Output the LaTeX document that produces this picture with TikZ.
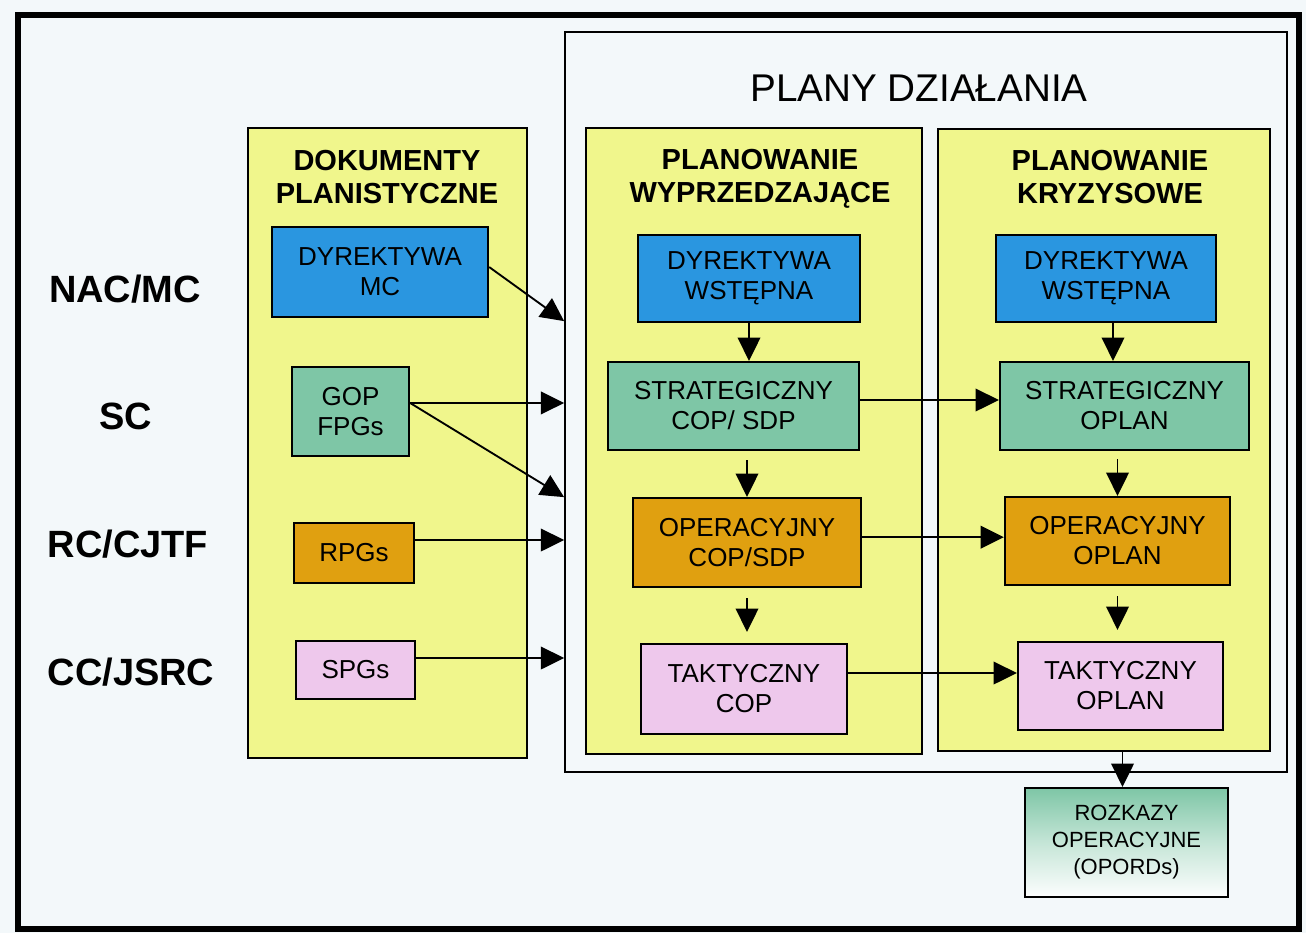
\documentclass[tikz,border=0pt]{standalone}
\usepackage{fontspec}
\setmainfont{Liberation Sans}
\usetikzlibrary{arrows.meta,calc}

\definecolor{paper}{RGB}{243,248,250}
\definecolor{ylw}{RGB}{240,246,140}
\definecolor{blu}{RGB}{42,150,224}
\definecolor{grn}{RGB}{126,198,166}
\definecolor{org}{RGB}{224,160,16}
\definecolor{pnk}{RGB}{238,200,236}

\tikzset{
  px/.style 2 args={minimum width=#1*0.75pt, minimum height=#2*0.75pt},
  panel/.style={draw=black, line width=1.4pt, fill=ylw, inner sep=0pt},
  box/.style={draw=black, line width=1.7pt, inner sep=0pt, align=center,
              font=\fontsize{19.5}{22.5}\selectfont},
  smallbox/.style={box, font=\fontsize{16.5}{20.25}\selectfont},
  head/.style={align=center, font=\fontsize{21.75}{24.75}\selectfont\bfseries},
  level/.style={font=\fontsize{28.5}{30}\selectfont\bfseries},
  arr/.style={line width=1.4pt, -{Triangle[length=17.5pt,width=17pt]}},
}

\begin{document}
\begin{tikzpicture}[x=0.75pt,y=-0.75pt]
% page and outer frame
\fill[paper] (0,0) rectangle (1306,933);
\useasboundingbox (0,0) rectangle (1306,933);
\draw[line width=4pt] (18,15) rectangle (1299,929);

% frame of the operation plans
\node[draw=black, line width=1.3pt, fill=paper, inner sep=0pt, px={722}{740}] (plany) at (926,402) {};
\node[font=\fontsize{29}{32}\selectfont] (title) at (919,88) {PLANY DZIAŁANIA};

% yellow panels
\node[panel, px={279}{630}] (dok) at (387.5,443) {};
\node[panel, px={336}{626}] (wyp) at (754,441) {};
\node[panel, px={332}{622}] (kry) at (1104,440) {};

\node[head] (h1) at (387,177) {DOKUMENTY\\PLANISTYCZNE};
\node[head] (h2) at (760,178.5) {PLANOWANIE\\WYPRZEDZAJĄCE};
\node[head] (h3) at (1110,177) {PLANOWANIE\\KRYZYSOWE};

% command levels
\node[level] (l1) at (125,289) {NAC/MC};
\node[level] (l2) at (126,416) {SC};
\node[level] (l3) at (128,544) {RC/CJTF};
\node[level] (l4) at (131,672) {CC/JSRC};

% planning documents
\node[box, fill=blu, px={216}{90}] (dmc) at (380,272) {DYREKTYWA\\MC};
\node[box, fill=grn, px={117}{89}] (gop) at (350.5,411.5) {GOP\\FPGs};
\node[box, fill=org, px={120}{60}] (rpg) at (354,553) {RPGs};
\node[box, fill=pnk, px={119}{58}] (spg) at (355.5,670) {SPGs};

% advance planning
\node[box, fill=blu, px={222}{87}] (dw1) at (749,278.5) {DYREKTYWA\\WSTĘPNA};
\node[box, fill=grn, px={251}{88}] (st1) at (733.5,406) {STRATEGICZNY\\COP/ SDP};
\node[box, fill=org, px={228}{89}] (op1) at (747,542.5) {OPERACYJNY\\COP/SDP};
\node[box, fill=pnk, px={206}{90}] (tk1) at (744,689) {TAKTYCZNY\\COP};

% crisis planning
\node[box, fill=blu, px={220}{87}] (dw2) at (1106,278.5) {DYREKTYWA\\WSTĘPNA};
\node[box, fill=grn, px={249}{88}] (st2) at (1124.5,406) {STRATEGICZNY\\OPLAN};
\node[box, fill=org, px={225}{88}] (op2) at (1117.5,541) {OPERACYJNY\\OPLAN};
\node[box, fill=pnk, px={205}{88}] (tk2) at (1120.5,686) {TAKTYCZNY\\OPLAN};

% operation orders
\node[smallbox, top color=grn, bottom color=white!80!paper, middle color=grn!45!white,
      px={203}{109}] (roz) at (1126.5,842.5) {ROZKAZY\\OPERACYJNE\\(OPORDs)};

% entry points on the plans frame
\coordinate (e1) at ($(plany.north west)+(0,290)$);
\coordinate (e2) at ($(plany.north west)+(0,466)$);
\coordinate (g0) at ([yshift=6.4pt]gop.east);

% documents into the plans
\draw[arr] ([yshift=3.75pt]dmc.east) -- (e1);
\draw[arr] (g0) -- (plany.west |- g0);
\draw[arr] (g0) -- (e2);
\draw[arr] ([yshift=9.75pt]rpg.east) -- ([yshift=9.75pt]plany.west |- rpg.east);
\draw[arr] ([yshift=9pt]spg.east) -- ([yshift=9pt]plany.west |- spg.east);

% advance planning chain
\draw[arr] (dw1.south) -- (dw1.south |- st1.north);
\draw[arr] ($(op1.north |- st1.south)+(0,9)$) -- (op1.north);
\draw[arr] ($(op1.south)+(0,10)$) -- ($(op1.south |- tk1.north)+(0,-11)$);

% crisis planning chain
\draw[arr] ($(dw2.south)+(7,0)$) -- ($(dw2.south |- st2.north)+(7,0)$);
\draw[arr] ($(op2.north |- st2.south)+(0,8)$) -- (op2.north);
\draw[arr] ($(op2.south)+(0,10)$) -- ($(op2.south |- tk2.north)+(0,-11)$);

% advance to crisis
\draw[arr] ([yshift=4.5pt]st1.east) -- ([yshift=4.5pt]st1.east -| st2.west);
\draw[arr] ([yshift=4pt]op1.east) -- ([yshift=4pt]op1.east -| op2.west);
\draw[arr] ([yshift=12pt]tk1.east) -- ([yshift=12pt]tk1.east -| tk2.west);

% plans to orders
\draw[arr] ($(roz.north |- kry.south)+(-4,0)$) -- ($(roz.north)+(-4,0)$);
\end{tikzpicture}
\end{document}
